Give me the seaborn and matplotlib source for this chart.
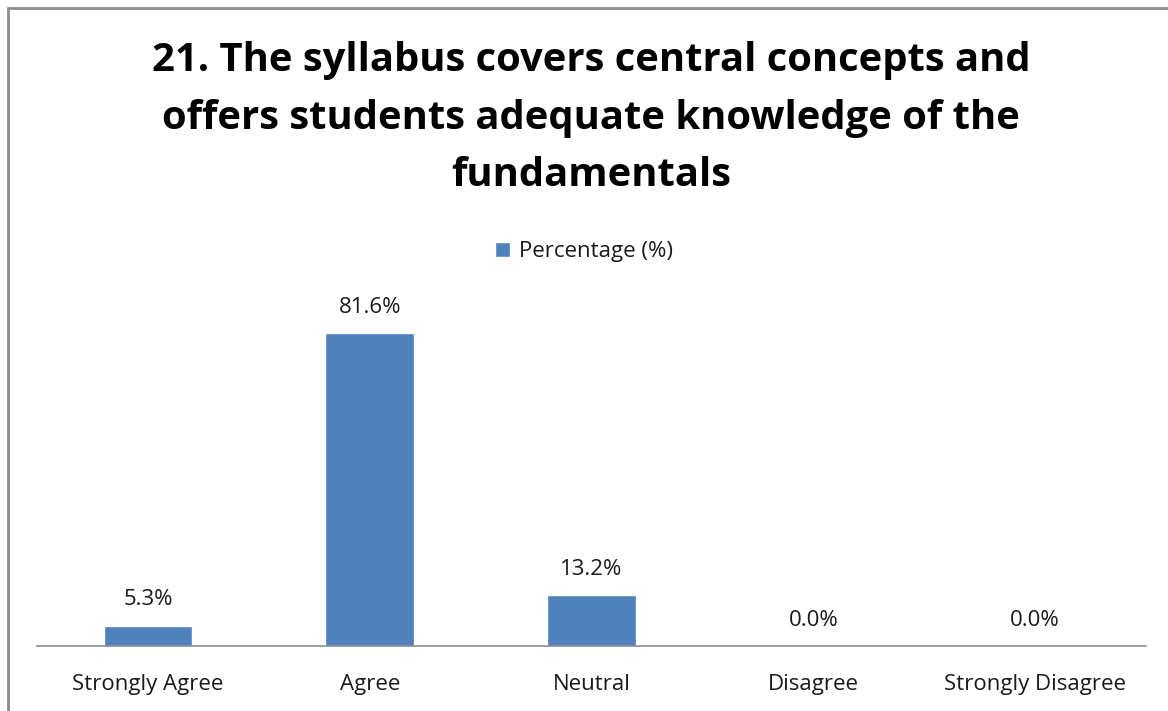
import numpy as np
import pandas as pd
import seaborn as sns
import matplotlib.pyplot as plt
from matplotlib.patches import Rectangle

categories = ["Strongly Agree", "Agree", "Neutral", "Disagree", "Strongly Disagree"]
percentages = [5.3, 81.6, 13.2, 0.0, 0.0]
series_name = "Percentage (%)"
title = ("21. The syllabus covers central concepts and\n"
         "offers students adequate knowledge of the\n"
         "fundamentals")

df = pd.DataFrame({"Response": categories, "Percentage": percentages})

sns.set_theme(style="white")
plt.rcParams['font.family'] = ['Open Sans', 'DejaVu Sans']

fig = plt.figure(figsize=(11.68, 7.11), dpi=100)
ax = fig.add_axes([37 / 1168, 1 - 646 / 711, 1109 / 1168, 345 / 711])

bar_color = "#4F81BD"
sns.barplot(data=df, x="Response", y="Percentage", color=bar_color, width=0.4,
            ax=ax, label=series_name, saturation=1)

ax.set_ylim(0, 90)
ax.set_xlim(-0.5, 4.5)
ax.set_xlabel("")
ax.set_ylabel("")
ax.set_yticks([])
for s in ["top", "right", "left"]:
    ax.spines[s].set_visible(False)
ax.spines["bottom"].set_color("#8c8c8c")
ax.spines["bottom"].set_linewidth(1.2)
ax.tick_params(axis="x", length=0, pad=20, labelsize=16, labelcolor="#1a1a1a")

for bars in ax.containers:
    ax.bar_label(bars, labels=[f"{v:.1f}%" for v in percentages], padding=11,
                 fontsize=16, color="#1a1a1a")

leg = ax.legend(loc="center", bbox_to_anchor=(0.5, 1 - 252 / 711), bbox_transform=fig.transFigure,
                frameon=False, fontsize=16, handlelength=0.65, handleheight=0.65, handletextpad=0.4)
for t in leg.get_texts():
    t.set_color("#1a1a1a")

fig.text(591 / 1168, 1 - 118 / 711, title, ha="center", va="center", fontsize=28.8,
         fontweight="bold", linespacing=1.6, color="#000000")

fig.patches.append(Rectangle((8 / 1168, -0.1), 1.2, 1 - 8 / 711 + 0.1, transform=fig.transFigure,
                             fill=False, edgecolor="#8c8c8c", linewidth=2))

fig.savefig("out.png", dpi=100, facecolor="white")
